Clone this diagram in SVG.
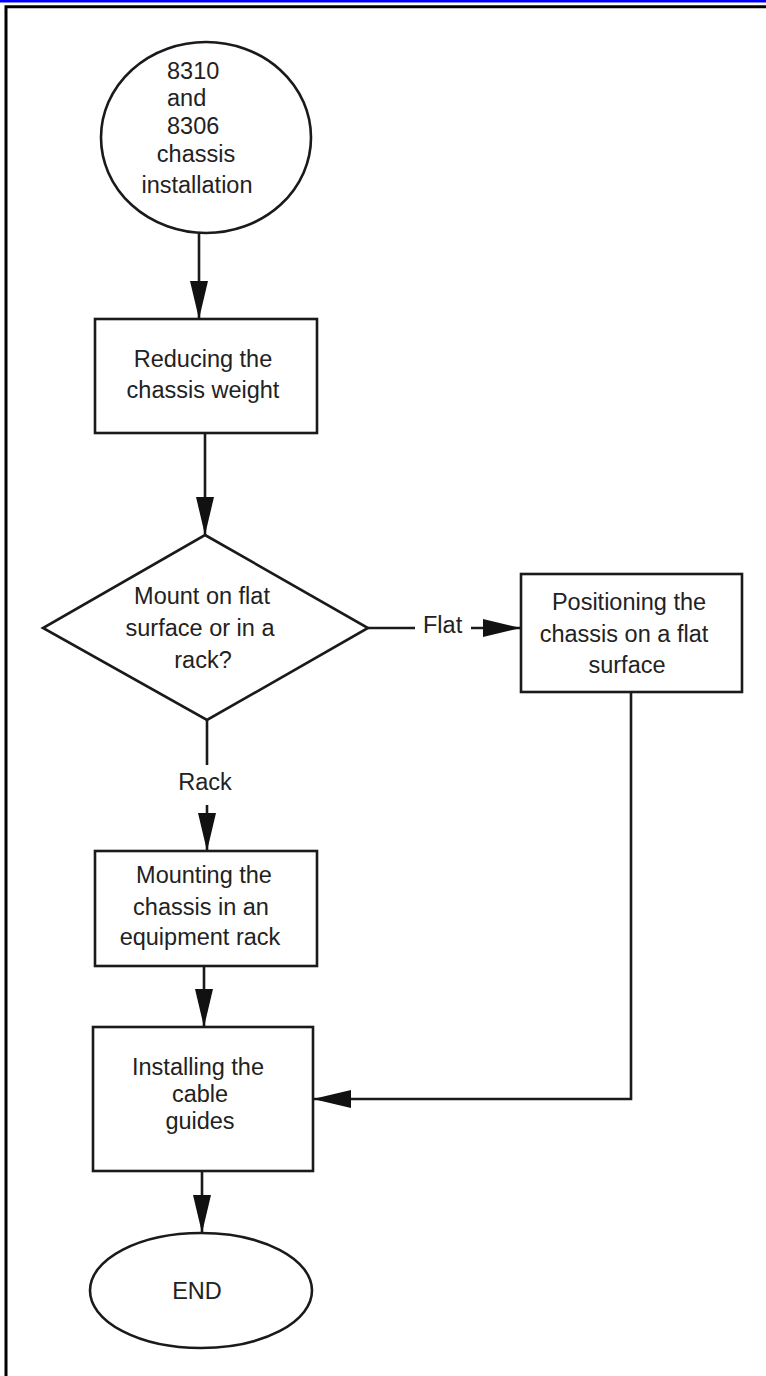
<svg xmlns="http://www.w3.org/2000/svg" width="766" height="1376" viewBox="0 0 766 1376">
<defs>
<style>
.shape{fill:#fff;stroke:#1a1a1a;stroke-width:2.6}
.ln{fill:none;stroke:#1a1a1a;stroke-width:2.6}
.t{font-family:"Liberation Sans",Arial,sans-serif;font-size:23.5px;fill:#222;text-anchor:middle}
.ts{font-family:"Liberation Sans",Arial,sans-serif;font-size:23.5px;fill:#222;text-anchor:start}
</style>
<marker id="ah" markerUnits="userSpaceOnUse" markerWidth="38" markerHeight="18" refX="38" refY="9" orient="auto" viewBox="0 0 38 18">
<path d="M0,0 L38,9 L0,18 Z" fill="#111"/>
</marker>
</defs>
<rect width="766" height="1376" fill="#fff"/>
<rect x="0" y="0" width="766" height="2.5" fill="#0000ff"/>
<path d="M6,1376 V6.8 H766" fill="none" stroke="#000" stroke-width="3"/>

<g id="connectors">
<line class="ln" x1="199" y1="233" x2="199" y2="319" marker-end="url(#ah)"/>
<line class="ln" x1="205" y1="433" x2="205" y2="535" marker-end="url(#ah)"/>
<line class="ln" x1="368" y1="628" x2="415" y2="628"/>
<text class="ts" x="423" y="633">Flat</text>
<line class="ln" x1="471" y1="628" x2="521" y2="628" marker-end="url(#ah)"/>
<line class="ln" x1="207" y1="720" x2="207" y2="765"/>
<text class="t" x="205" y="790">Rack</text>
<line class="ln" x1="207" y1="805" x2="207" y2="851" marker-end="url(#ah)"/>
<line class="ln" x1="204" y1="966" x2="204" y2="1027" marker-end="url(#ah)"/>
<polyline class="ln" points="631,692 631,1099 313,1099" marker-end="url(#ah)"/>
<line class="ln" x1="202" y1="1171" x2="202" y2="1233" marker-end="url(#ah)"/>
</g>

<g id="start">
<ellipse class="shape" cx="206" cy="137.5" rx="105" ry="95.5"/>
<text class="ts" x="167" y="79">8310</text>
<text class="ts" x="167" y="106">and</text>
<text class="ts" x="167" y="134">8306</text>
<text class="t" x="196" y="162">chassis</text>
<text class="t" x="197" y="193">installation</text>
</g>

<g id="reduce">
<rect class="shape" x="95" y="319" width="222" height="114"/>
<text class="t" x="203" y="367">Reducing the</text>
<text class="t" x="203" y="398">chassis weight</text>
</g>

<g id="decision">
<polygon class="shape" points="205,535 368,628 207,720 43,628"/>
<text class="t" x="202" y="604">Mount on flat</text>
<text class="t" x="200" y="636">surface or in a</text>
<text class="t" x="203" y="668">rack?</text>
</g>

<g id="flat">
<rect class="shape" x="521" y="574" width="221" height="118"/>
<text class="t" x="629" y="610">Positioning the</text>
<text class="t" x="624" y="642">chassis on a flat</text>
<text class="t" x="627" y="673">surface</text>
</g>

<g id="rack">
<rect class="shape" x="95" y="851" width="222" height="115"/>
<text class="t" x="204" y="883">Mounting the</text>
<text class="t" x="201" y="915">chassis in an</text>
<text class="t" x="200" y="945">equipment rack</text>
</g>

<g id="guides">
<rect class="shape" x="93" y="1027" width="220" height="144"/>
<text class="t" x="198" y="1075">Installing the</text>
<text class="t" x="200" y="1102">cable</text>
<text class="t" x="200" y="1129">guides</text>
</g>

<g id="end">
<ellipse class="shape" cx="201" cy="1290.5" rx="111" ry="57.5"/>
<text class="t" x="197" y="1299">END</text>
</g>
</svg>
